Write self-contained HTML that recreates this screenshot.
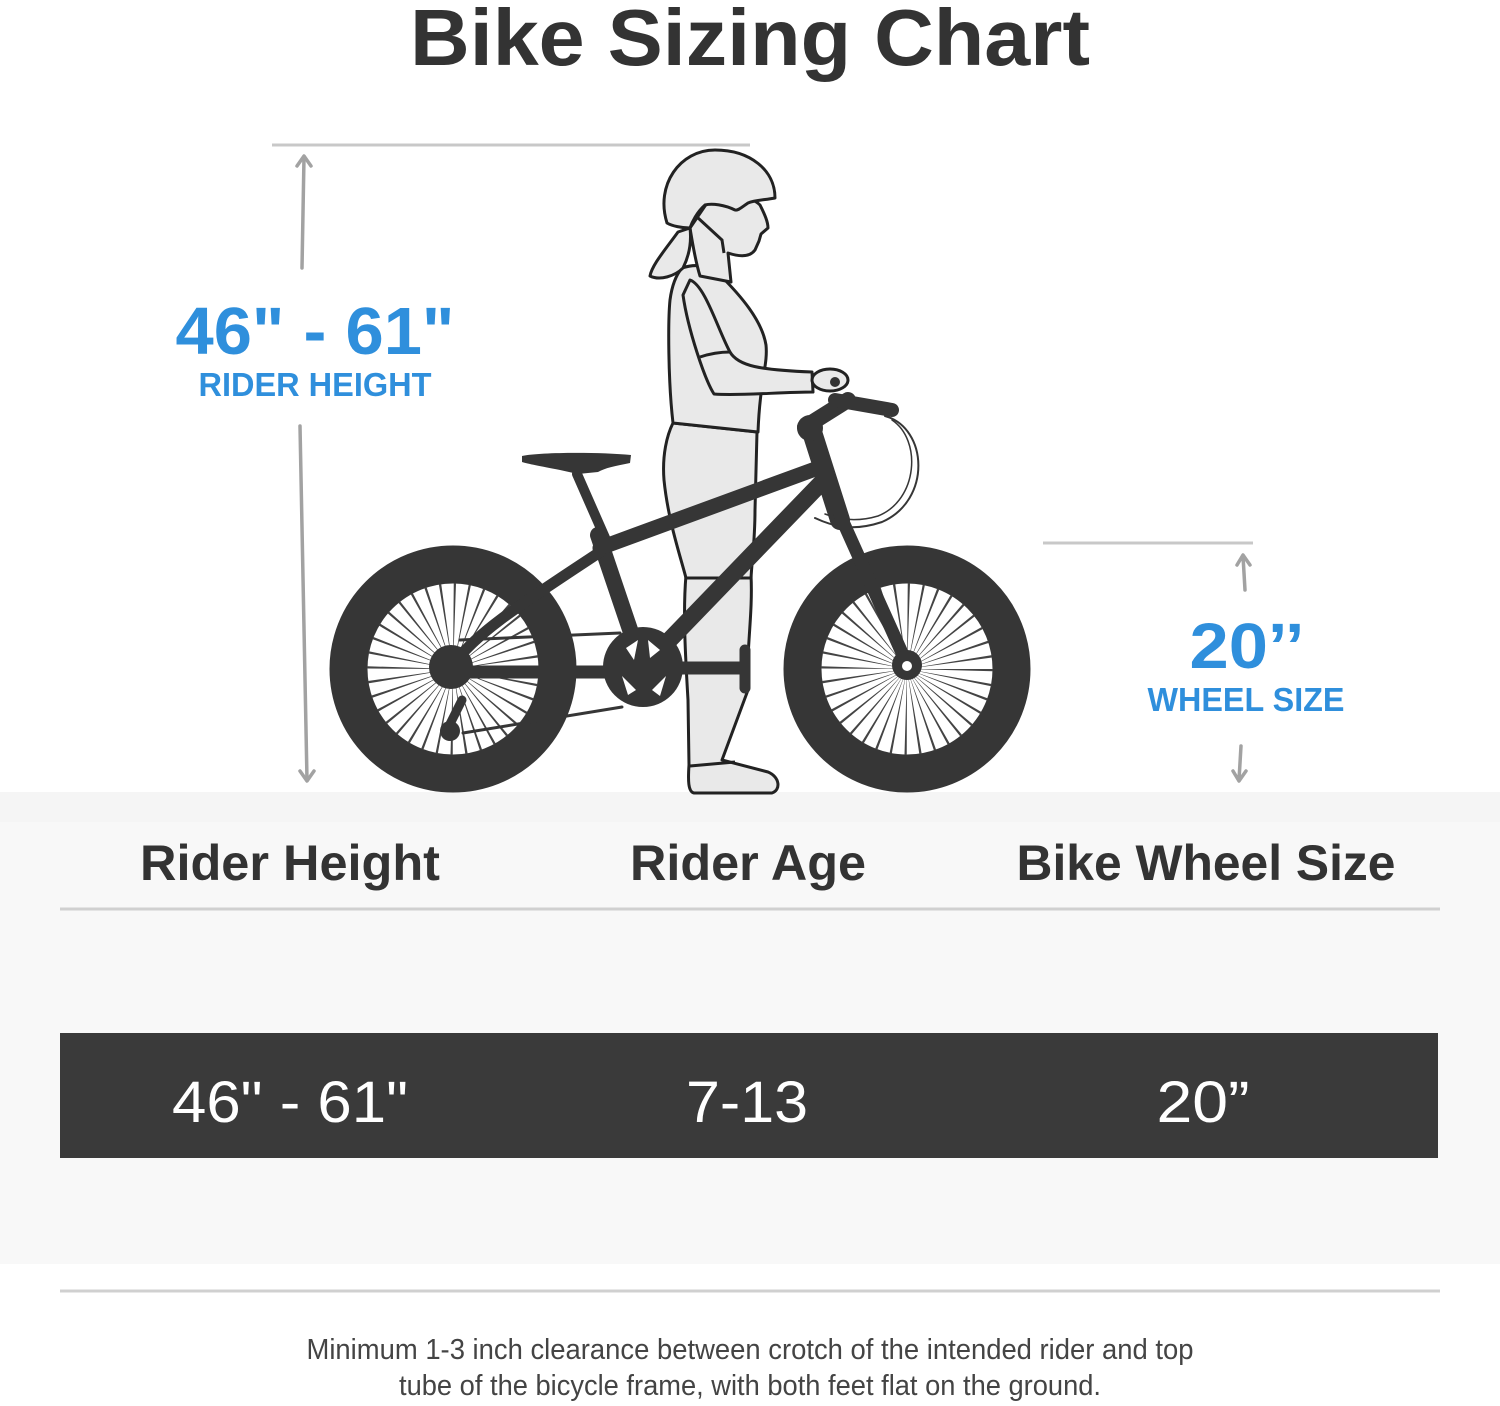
<!DOCTYPE html>
<html><head><meta charset="utf-8"><style>
html,body{margin:0;padding:0;background:#fff;}
svg{display:block;}
text{font-family:"Liberation Sans",sans-serif;}
</style></head><body>
<svg width="1500" height="1406" viewBox="0 0 1500 1406" xmlns="http://www.w3.org/2000/svg">
<rect width="1500" height="1406" fill="#fff"/>
<!-- band -->
<rect x="0" y="792" width="1500" height="472" fill="#f8f8f8"/>
<rect x="0" y="792" width="1500" height="30" fill="#f5f5f5"/>

<!-- Title -->
<text x="750" y="65" text-anchor="middle" font-size="80" font-weight="bold" fill="#333" textLength="680" lengthAdjust="spacingAndGlyphs">Bike Sizing Chart</text>

<!-- measurement lines -->
<g stroke="#c8c8c8" stroke-width="3" fill="none">
<line x1="272" y1="145" x2="750" y2="145"/>
<line x1="1043" y1="543" x2="1253" y2="543"/>
</g>
<g stroke="#a2a2a2" stroke-width="3.5" fill="none" stroke-linecap="round" stroke-linejoin="round">
<line x1="302" y1="268" x2="304" y2="157"/>
<polyline points="297,166 304,156 311,166"/>
<line x1="300" y1="426" x2="307" y2="780"/>
<polyline points="300,771 307,781 314,771"/>
<line x1="1245" y1="590" x2="1243" y2="556"/>
<polyline points="1237,565 1243,555 1250,565"/>
<line x1="1241" y1="746" x2="1239" y2="780"/>
<polyline points="1233,771 1239,781 1246,771"/>
</g>

<!-- Blue labels -->
<text x="315" y="354" text-anchor="middle" font-size="67" font-weight="bold" fill="#2f8fdc" textLength="279" lengthAdjust="spacingAndGlyphs">46" - 61"</text>
<text x="315" y="396" text-anchor="middle" font-size="33" font-weight="bold" fill="#2f8fdc" textLength="233" lengthAdjust="spacingAndGlyphs">RIDER HEIGHT</text>
<text x="1247" y="668" text-anchor="middle" font-size="64" font-weight="bold" fill="#2f8fdc" textLength="115" lengthAdjust="spacingAndGlyphs">20’’</text>
<text x="1246" y="711" text-anchor="middle" font-size="33" font-weight="bold" fill="#2f8fdc" textLength="197" lengthAdjust="spacingAndGlyphs">WHEEL SIZE</text>

<!-- Girl -->
<g fill="#e9e9e9" stroke="#222" stroke-width="3" stroke-linejoin="round">
<path d="M686,575 L751,575 C753,615 746,650 748,690 L722,760 L768,772 C780,777 781,790 772,793 L694,793 C688,792 688,780 689,765 L688,700 C685,650 683,610 686,575 Z"/>
<path d="M673,423 L757,432 L755,510 C755,540 752,560 751,578 L686,578 C680,555 668,520 664,480 C662,455 667,435 673,423 Z"/>
<path d="M682,268 C700,262 712,268 720,275 C740,295 762,320 766,345 C768,365 760,380 758,432 L673,423 C668,380 668,320 670,300 C672,285 676,275 682,268 Z"/>
<path d="M690,280 C705,285 718,330 730,352 C738,366 760,370 812,372 L813,392 C780,392 740,396 714,394 C705,380 688,330 683,295 Z"/>
<path d="M707,203 C720,190 750,195 760,205 C765,215 768,222 768,228 L761,234 L759,241 L755,250 C750,257 740,257 728,253 L731,282 L700,276 C695,260 692,240 690,228 Z"/>
<path d="M678,232 C665,250 652,265 650,276 C660,281 675,276 683,268 C688,258 692,245 690,228 Z"/>
<path d="M667,223 C655,185 680,150 715,150 C750,150 775,170 775,198 C765,200 755,200 748,203 C742,207 738,211 735,210 C725,205 712,203 705,205 C697,212 692,222 690,228 C682,228 672,226 667,223 Z"/>
</g>
<g fill="none" stroke="#222" stroke-width="3">
<path d="M697,217 L722,240 L724,253"/>
<path d="M700,357 C712,353 722,352 730,352"/>
<path d="M690,766 L735,762"/>
</g>

<!-- Bike -->
<g fill="#363636" stroke="none">
<!-- saddle -->
<path d="M522,456 C540,452 600,452 631,455 L630,463 C615,466 605,468 598,472 L578,474 L560,470 C540,466 528,464 522,462 Z"/>
</g>
<g stroke="#363636" fill="none" stroke-linecap="round">
<!-- wheels -->
<circle cx="453" cy="669" r="104.5" stroke-width="38"/>
<circle cx="907" cy="669" r="104.5" stroke-width="38"/>
<!-- spokes -->
<circle cx="453" cy="669" r="48" stroke-width="76" stroke-dasharray="1.3 7.08" stroke-linecap="butt" stroke="#444"/>
<circle cx="907" cy="669" r="48" stroke-width="76" stroke-dasharray="1.3 7.08" stroke-linecap="butt" stroke="#444"/>
<!-- seat post & tube -->
<line x1="577" y1="474" x2="606" y2="540" stroke-width="10"/>
<line x1="598" y1="535" x2="642" y2="665" stroke-width="16"/>
<!-- top tube -->
<line x1="600" y1="548" x2="818" y2="468" stroke-width="15"/>
<!-- seat stay -->
<path d="M455,662 C480,630 520,605 600,552" stroke-width="11"/>
<!-- down tube -->
<line x1="822" y1="482" x2="655" y2="655" stroke-width="17"/>
<!-- head tube -->
<line x1="812" y1="432" x2="840" y2="520" stroke-width="20"/>
<!-- fork -->
<line x1="840" y1="515" x2="907" y2="664" stroke-width="13"/>
<!-- stem -->
<line x1="805" y1="427" x2="848" y2="400" stroke-width="16"/>
<line x1="835" y1="400" x2="892" y2="410" stroke-width="14"/>
<!-- chain stay -->
<line x1="455" y1="672" x2="640" y2="672" stroke-width="13"/>
<!-- chain -->
<line x1="460" y1="640" x2="620" y2="633" stroke-width="3"/>
<line x1="463" y1="733" x2="622" y2="707" stroke-width="3"/>
<!-- crank -->
<line x1="642" y1="668" x2="742" y2="668" stroke-width="13"/>
<line x1="745" y1="650" x2="745" y2="688" stroke-width="11"/>
<!-- derailleur -->
<line x1="462" y1="700" x2="448" y2="728" stroke-width="9"/>
<!-- brake cable -->
<path d="M885,416 C928,428 932,500 882,522 C852,532 832,526 815,518" stroke-width="2"/>
<path d="M892,420 C922,440 918,500 878,516 C858,522 840,520 825,514" stroke-width="1.5"/>
</g>
<g fill="#363636">
<circle cx="643" cy="667" r="40"/>
<circle cx="451" cy="667" r="22"/>
<circle cx="450" cy="731" r="10"/>
<circle cx="907" cy="665" r="15"/>
<circle cx="810" cy="428" r="13"/>
</g>
<g fill="#fff">
<path d="M626,648 L638,640 L634,660 Z"/>
<path d="M648,640 L660,650 L650,658 Z"/>
<path d="M622,676 L636,690 L628,695 Z"/>
<path d="M652,690 L666,676 L660,696 Z"/>
<circle cx="907" cy="666" r="5"/>
</g>

<!-- hand -->
<ellipse cx="830" cy="380" rx="18" ry="11" fill="#e9e9e9" stroke="#222" stroke-width="3"/>
<circle cx="835" cy="382" r="5" fill="#333"/>

<!-- Table -->
<g font-size="50" font-weight="bold" fill="#333" text-anchor="middle">
<text x="290" y="880" textLength="300" lengthAdjust="spacingAndGlyphs">Rider Height</text>
<text x="748" y="880" textLength="236" lengthAdjust="spacingAndGlyphs">Rider Age</text>
<text x="1206" y="880" textLength="379" lengthAdjust="spacingAndGlyphs">Bike Wheel Size</text>
</g>
<line x1="60" y1="909" x2="1440" y2="909" stroke="#d0d0d0" stroke-width="3"/>
<rect x="60" y="1033" width="1378" height="125" fill="#3a3a3a"/>
<g font-size="58" fill="#fff" text-anchor="middle">
<text x="290" y="1122" textLength="236" lengthAdjust="spacingAndGlyphs">46" - 61"</text>
<text x="747" y="1122" textLength="122" lengthAdjust="spacingAndGlyphs">7-13</text>
<text x="1203" y="1122" textLength="93" lengthAdjust="spacingAndGlyphs">20”</text>
</g>
<line x1="60" y1="1291" x2="1440" y2="1291" stroke="#d0d0d0" stroke-width="3"/>

<!-- Footer -->
<g font-size="29" fill="#444" text-anchor="middle">
<text x="750" y="1359" textLength="887" lengthAdjust="spacingAndGlyphs">Minimum 1-3 inch clearance between crotch of the intended rider and top</text>
<text x="750" y="1395" textLength="702" lengthAdjust="spacingAndGlyphs">tube of the bicycle frame, with both feet flat on the ground.</text>
</g>
</svg>
</body></html>
